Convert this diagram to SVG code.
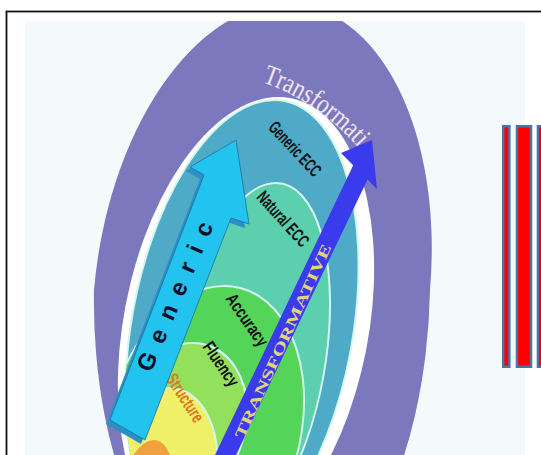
<svg xmlns="http://www.w3.org/2000/svg" width="541" height="455" viewBox="0 0 541 455">
<defs>
<clipPath id="clip"><rect x="25" y="21" width="500" height="434"/></clipPath>
<clipPath id="tealclip"><ellipse transform="translate(242,330) skewX(-8)" rx="112" ry="230"/></clipPath>
<style>
.lbl{font-family:"Liberation Sans",Arial,sans-serif;font-weight:bold;font-size:18px;fill:#111;text-anchor:middle;}
.ring{stroke:#d4f6ec;stroke-width:2;}
.bar{fill:#ff0000;stroke:#4a76a6;stroke-width:2.4;}
.purple{fill:#7c78bd;}
</style>
</defs>
<rect width="541" height="455" fill="#ffffff"/>
<rect x="6.5" y="11.5" width="560" height="470" fill="none" stroke="#111111" stroke-width="1.8"/>
<rect x="25" y="21" width="500" height="434" fill="#f4f9fc"/>
<g clip-path="url(#clip)">
  <g id="ring-transformative">
    <path class="purple" transform="translate(262,290) skewX(-4.9)" d="M-168,1.5 L-168,0 A168,286 0 0 1 168,0 L168,1.5 Z"/>
    <path class="purple" transform="translate(262,290) skewX(-1)" d="M168,-1.5 L168,0 A168,327 0 0 1 -168,0 L-168,-1.5 Z"/>
    <ellipse transform="translate(246,327) skewX(-8)" rx="124" ry="230" fill="#ffffff"/>
    <path id="arcpath" d="M262,82 Q315,100 357,146" fill="none"/>
    <text font-family="Liberation Serif,serif" font-size="28" fill="#f3e4f3"><textPath href="#arcpath" textLength="118" lengthAdjust="spacingAndGlyphs">Transformati</textPath></text>
  </g>
  <g id="generic-ecc">
    <ellipse transform="translate(242,330) skewX(-8)" rx="112" ry="230" fill="#4eaac6" class="ring"/>
  </g>
  <g clip-path="url(#tealclip)">
    <g id="natural-ecc"><ellipse transform="translate(251,360) skewX(-8)" rx="75" ry="177" fill="#5ccfae" class="ring"/></g>
    <g id="accuracy"><ellipse transform="translate(204,430) skewX(-8)" rx="98" ry="144" fill="#55d45a" class="ring"/></g>
    <g id="fluency"><ellipse transform="translate(181,425) skewX(-8)" rx="65" ry="82" fill="#92e05c" class="ring"/></g>
    <g id="structure"><ellipse transform="translate(156,480) skewX(-8)" rx="60" ry="92" fill="#eef068" class="ring"/></g>
    <g id="base"><ellipse transform="translate(147,488) skewX(-8)" rx="25" ry="48" fill="#f0a040"/></g>
  </g>
  <g id="labels">
    <text class="lbl" transform="translate(295,149) rotate(47)" dy="6" textLength="68" lengthAdjust="spacingAndGlyphs">Generic ECC</text>
    <text class="lbl" transform="translate(283,219) rotate(48)" dy="6" textLength="68" lengthAdjust="spacingAndGlyphs">Natural ECC</text>
    <text class="lbl" transform="translate(247,320) rotate(55)" dy="6" textLength="60" lengthAdjust="spacingAndGlyphs">Accuracy</text>
    <text class="lbl" transform="translate(221,364) rotate(56)" dy="6" textLength="50" lengthAdjust="spacingAndGlyphs">Fluency</text>
    <text class="lbl" transform="translate(185,398) rotate(57)" dy="6" textLength="54" lengthAdjust="spacingAndGlyphs" style="fill:#e47420">Structure</text>
  </g>
  <g id="connectors">
    <g id="arrow-generic">
      <polygon transform="translate(-4,4)" points="236,140 249,224 231,218 145,440 110,420 204,175 190,167" fill="#2d8fc6"/>
      <polygon points="236,140 249,224 231,218 145,440 110,420 204,175 190,167" fill="#22c3ef" stroke="#1f6f9e" stroke-width="0.8"/>
      <text transform="translate(175,296.5) rotate(-67)" dy="8" font-family="Liberation Sans,Arial,sans-serif" font-weight="bold" font-size="24" fill="#0d0d2a" text-anchor="middle" textLength="160" lengthAdjust="spacing">Generic</text>
    </g>
    <g id="arrow-transformative">
      <polygon points="372,140 377,189 367.5,179.5 233.6,460 212.6,460 353.2,165.2 341,153" fill="#3b3bee"/>
      <text transform="translate(283,341) rotate(-65.4)" dy="5" font-family="Liberation Serif,serif" font-weight="bold" font-size="15" fill="#e3d47a" text-anchor="middle" textLength="212" lengthAdjust="spacingAndGlyphs">TRANSFORMATIVE</text>
    </g>
  </g>
</g>
<g id="bars">
  <rect class="bar" x="503.2" y="126.2" width="6.2" height="240.6"/>
  <rect class="bar" x="516.9" y="126.2" width="14.2" height="240.6"/>
  <rect class="bar" x="537.9" y="126.2" width="14" height="240.6"/>
</g>
</svg>
